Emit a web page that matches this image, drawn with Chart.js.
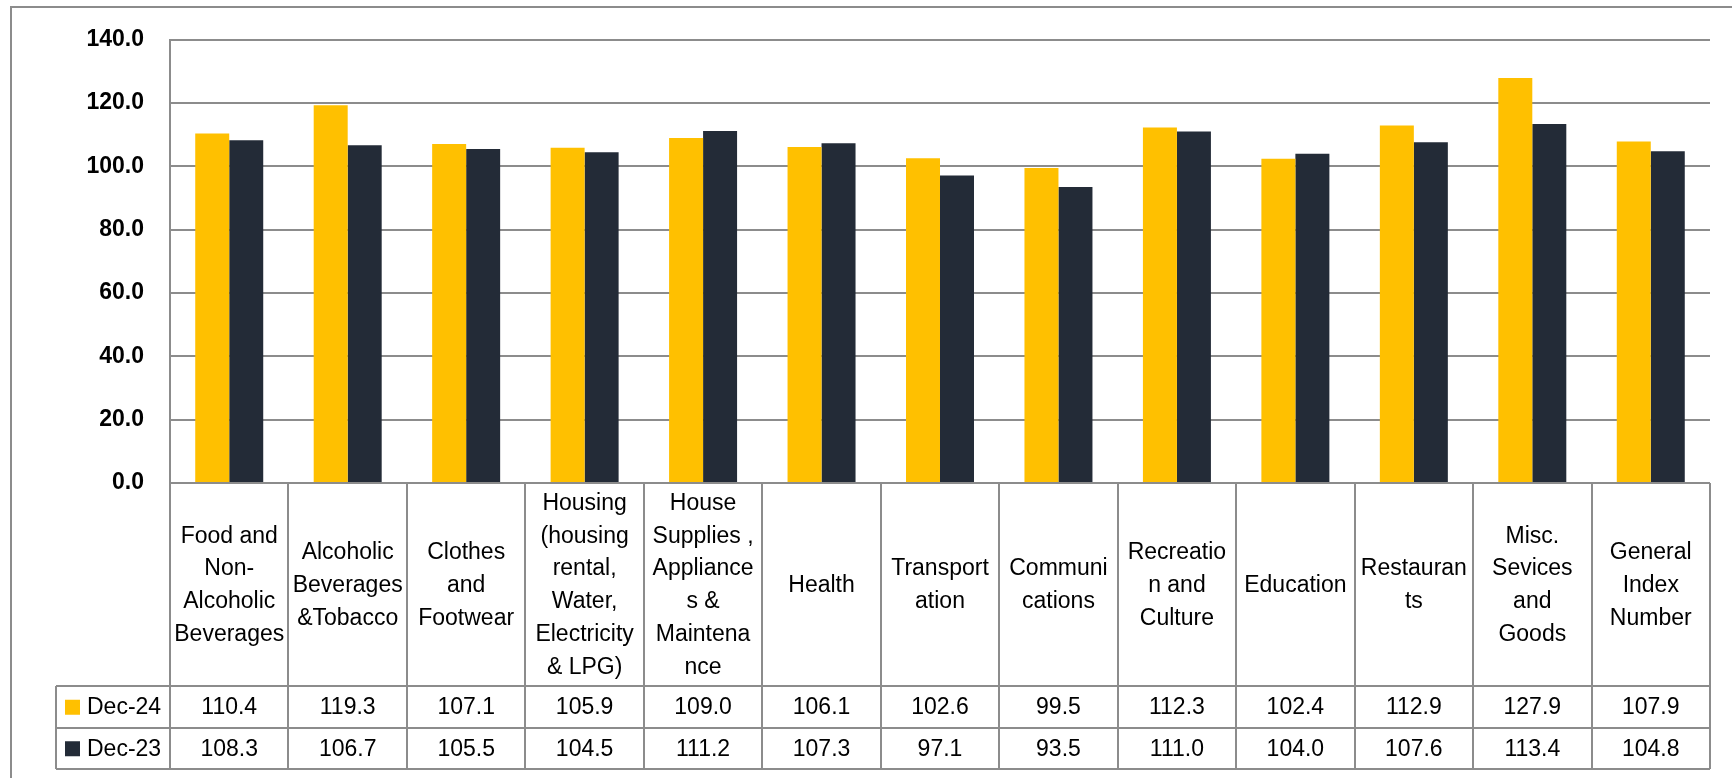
<!DOCTYPE html>
<html>
<head>
<meta charset="utf-8">
<script src="https://cdn.jsdelivr.net/npm/chart.js@4.4.1/dist/chart.umd.min.js"></script>
<style>
  html, body { margin: 0; padding: 0; background: #fff; }
  #wrap { position: relative; width: 1732px; height: 778px; }
</style>
</head>
<body>
<div id="wrap"><canvas id="cpi-chart"></canvas></div>
<script>
// category labels, wrapped the same way as in the source table
const categories = [
  ["Food and", "Non-", "Alcoholic", "Beverages"],
  ["Alcoholic", "Beverages", "&Tobacco"],
  ["Clothes", "and", "Footwear"],
  ["Housing", "(housing", "rental,", "Water,", "Electricity", "& LPG)"],
  ["House", "Supplies ,", "Appliance", "s &", "Maintena", "nce"],
  ["Health"],
  ["Transport", "ation"],
  ["Communi", "cations"],
  ["Recreatio", "n and", "Culture"],
  ["Education"],
  ["Restauran", "ts"],
  ["Misc.", "Sevices", "and", "Goods"],
  ["General", "Index", "Number"],
];

const seriesNames = ["Dec-24", "Dec-23"];
const dec24 = [110.4, 119.3, 107.1, 105.9, 109.0, 106.1, 102.6, 99.5, 112.3, 102.4, 112.9, 127.9, 107.9];
const dec23 = [108.3, 106.7, 105.5, 104.5, 111.2, 107.3, 97.1, 93.5, 111.0, 104.0, 107.6, 113.4, 104.8];

const Y_MIN = 0;
const Y_MAX = 140;
const Y_STEP = 20;

const LINE_COLOR = "#8c8c8c";
const FONT = "'Liberation Sans', Arial, sans-serif";
const FONT_SIZE = 23;

// layout in canvas px
const PLOT_LEFT = 170;
const PLOT_TOP = 36;
const PLOT_BOTTOM = 483;
const PLOT_RIGHT_PAD = 22;
const CAT_ROW_BOTTOM = 686;
const ROW_H = 41.5;
const LEGEND_LEFT = 56;

const dataTablePlugin = {
  id: "dataTable",
  afterDraw(chart) {
    const c = chart.ctx;
    const xs = chart.scales.x;
    const area = chart.chartArea;
    const n = categories.length;
    const cw = (area.right - area.left) / n;
    const rowsBottom = CAT_ROW_BOTTOM + ROW_H * seriesNames.length;

    c.save();
    c.strokeStyle = LINE_COLOR;
    c.lineWidth = 2;

    // outer frame of the chart
    c.strokeRect(11, 7, chart.width + 20, chart.height + 20);

    // vertical cell borders
    for (let i = 0; i <= n; i++) {
      const x = Math.round(area.left + cw * i);
      c.beginPath();
      c.moveTo(x, area.bottom);
      c.lineTo(x, rowsBottom);
      c.stroke();
    }
    // horizontal borders of the value rows
    for (let r = 0; r <= seriesNames.length; r++) {
      const y = Math.round(CAT_ROW_BOTTOM + ROW_H * r);
      c.beginPath();
      c.moveTo(LEGEND_LEFT, y);
      c.lineTo(area.right, y);
      c.stroke();
    }
    c.beginPath();
    c.moveTo(LEGEND_LEFT, CAT_ROW_BOTTOM);
    c.lineTo(LEGEND_LEFT, rowsBottom);
    c.stroke();

    c.fillStyle = "#000";
    c.font = FONT_SIZE + "px " + FONT;
    c.textAlign = "center";
    c.textBaseline = "middle";

    // category names
    const lineH = 32.8;
    const midY = (area.bottom + CAT_ROW_BOTTOM) / 2 + 1;
    categories.forEach((lines, i) => {
      const cx = xs.getPixelForValue(i);
      const y0 = midY - (lines.length - 1) * lineH / 2;
      lines.forEach((t, k) => c.fillText(t, cx, y0 + k * lineH));
    });

    // value rows with legend keys
    chart.data.datasets.forEach((ds, r) => {
      const cy = CAT_ROW_BOTTOM + ROW_H * r + ROW_H / 2 + 1;
      c.fillStyle = ds.backgroundColor;
      c.fillRect(65, cy - 8, 15, 15);
      c.fillStyle = "#000";
      c.textAlign = "left";
      c.fillText(seriesNames[r], 87, cy);
      c.textAlign = "center";
      ds.data.forEach((v, i) => {
        c.fillText(v.toFixed(1), xs.getPixelForValue(i), cy);
      });
    });
    c.restore();
  },
};

const ctx = document.getElementById("cpi-chart").getContext("2d");

const cpiChart = new Chart(ctx, {
  type: "bar",
  data: {
    labels: categories.map((l) => l.join(" ")),
    datasets: [
      {
        label: seriesNames[0],
        data: dec24,
        backgroundColor: "#ffc000",
        categoryPercentage: 0.574,
        barPercentage: 1.0,
      },
      {
        label: seriesNames[1],
        data: dec23,
        backgroundColor: "#232b37",
        categoryPercentage: 0.574,
        barPercentage: 1.0,
      },
    ],
  },
  options: {
    responsive: true,
    maintainAspectRatio: false,
    animation: false,
    layout: {
      padding: { top: PLOT_TOP, right: PLOT_RIGHT_PAD, left: 0, bottom: 0 },
    },
    plugins: {
      legend: { display: false },
      tooltip: { enabled: false },
    },
    scales: {
      x: {
        ticks: { display: false },
        grid: { display: false, drawTicks: false },
        border: { display: false },
        afterFit: (scale) => {
          scale.height = 778 - PLOT_BOTTOM;
        },
      },
      y: {
        min: Y_MIN,
        max: Y_MAX,
        ticks: {
          stepSize: Y_STEP,
          padding: 26,
          color: "#000",
          font: { family: FONT, size: FONT_SIZE, weight: "bold" },
          callback: (value) => value.toFixed(1),
        },
        grid: {
          color: LINE_COLOR,
          lineWidth: 2,
          drawTicks: false,
        },
        border: { color: LINE_COLOR, width: 2 },
        afterFit: (scale) => {
          scale.width = PLOT_LEFT;
        },
      },
    },
  },
  plugins: [dataTablePlugin],
});
</script>
</body>
</html>
